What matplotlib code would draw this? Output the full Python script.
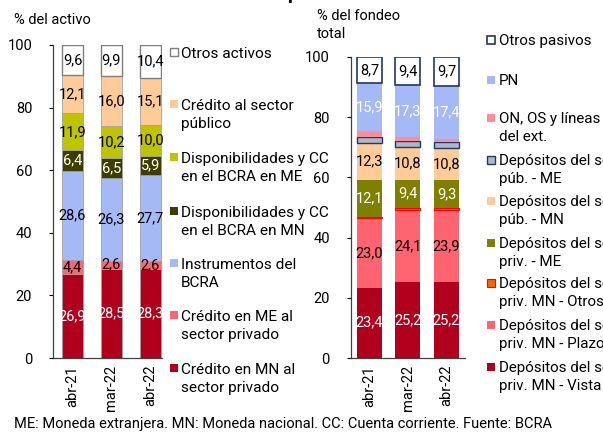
import matplotlib
matplotlib.use("Agg")
import matplotlib.pyplot as plt
from matplotlib.patches import Rectangle
import numpy as np

plt.rcParams['font.family'] = ['Roboto', 'DejaVu Sans']

# ---------------- data ----------------
periods = ["abr-21", "mar-22", "abr-22"]

# Activo (left)
asset_names = ["Crédito en MN al\nsector privado", "Crédito en ME al\nsector privado",
               "Instrumentos del\nBCRA", "Disponibilidades y CC\nen el BCRA en MN",
               "Disponibilidades y CC\nen el BCRA en ME", "Crédito al sector\npúblico",
               "Otros activos"]
credito_mn = [26.9, 28.5, 28.3]
credito_me = [4.4, 2.6, 2.6]
instrumentos_bcra = [28.6, 26.3, 27.7]
disp_mn = [6.4, 6.5, 5.9]
disp_me = [11.9, 10.2, 10.0]
credito_pub = [12.1, 16.0, 15.1]
otros_activos = [9.6, 9.9, 10.4]

# Fondeo (right)
funding_names = ["Depósitos del sector\npriv. MN - Vista", "Depósitos del sector\npriv. MN - Plazo",
                 "Depósitos del sector\npriv. MN - Otros", "Depósitos del sector\npriv. - ME",
                 "Depósitos del sector\npúb. - MN", "Depósitos del sector\npúb. - ME",
                 "ON, OS y líneas\ndel ext.", "PN", "Otros pasivos"]
dep_priv_vista = [23.4, 25.2, 25.2]
dep_priv_plazo = [23.0, 24.1, 23.9]
dep_priv_otros = [0.6, 0.6, 0.6]
dep_priv_me = [12.1, 9.4, 9.3]
dep_pub_mn = [12.3, 10.8, 10.8]
dep_pub_me = [2.0, 1.9, 1.9]
on_os = [2.0, 1.3, 1.2]
pn = [15.9, 17.3, 17.4]
otros_pasivos = [8.7, 9.4, 9.7]

y_ticks = [0, 20, 40, 60, 80, 100]

# ---------------- styles ----------------
W, H = 603, 432
fig = plt.figure(figsize=(W / 100, H / 100), dpi=100)

def fx(px):
    return px / W

def fy(py):
    return 1 - py / H

asset_styles = [  # face, edge, lw, label color, show label
    ("#B0001E", "#A0A0A0", 0.6, "white", True),
    ("#FF6470", "#A0A0A0", 0.6, "black", True),
    ("#A4B9F5", "#A0A0A0", 0.6, "black", True),
    ("#3D3D00", "#A0A0A0", 0.6, "white", True),
    ("#BFC400", "#A0A0A0", 0.6, "black", True),
    ("#FFCC99", "#A0A0A0", 0.6, "black", True),
    ("#FFFFFF", "#7F7F7F", 1.0, "black", True),
]
NAVY = "#1F3864"
funding_styles = [
    ("#B0001E", "none", 0.0, "white", True),
    ("#FF6470", "none", 0.0, "black", True),
    ("#FF6600", "#FF0000", 0.8, "black", False),
    ("#7F7F00", "none", 0.0, "white", True),
    ("#FFCC99", "none", 0.0, "black", True),
    ("#ADB9CA", NAVY, 1.0, "black", False),
    ("#FF8C96", "none", 0.0, "black", False),
    ("#A4B9F5", "none", 0.0, "white", True),
    ("#FFFFFF", NAVY, 1.2, "black", True),
]

def fmt(v):
    return f"{v:.1f}".replace(".", ",")

def stacked(ax, series, styles, width):
    x = np.arange(len(periods))
    bottom = np.zeros(len(periods))
    for vals, (fc, ec, lw, tc, show) in zip(series, styles):
        vals = np.array(vals)
        ax.bar(x, vals, width, bottom=bottom, color=fc, edgecolor=ec, linewidth=lw, zorder=2)
        if show:
            for xi, b, v in zip(x, bottom, vals):
                ax.text(xi, b + v / 2, fmt(v), ha="center", va="center",
                        fontsize=10.5, color=tc, zorder=3)
        bottom = bottom + vals

def style_axes(ax):
    ax.set_ylim(0, 100)
    ax.set_yticks(y_ticks)
    ax.set_xticks(np.arange(len(periods)))
    ax.set_xticklabels(periods, rotation=90, fontsize=10.5)
    ax.tick_params(axis="y", labelsize=10.5, direction="out", length=3, width=0.8, pad=12)
    ax.tick_params(axis="x", length=0, pad=5)
    for s in ["top", "right"]:
        ax.spines[s].set_visible(False)
    for s in ["left", "bottom"]:
        ax.spines[s].set_color("#404040")
        ax.spines[s].set_linewidth(0.9)

# Left axes
axL = fig.add_axes([fx(53), fy(358), fx(162) - fx(53), fy(45) - fy(358)])
stacked(axL, [credito_mn, credito_me, instrumentos_bcra, disp_mn, disp_me, credito_pub, otros_activos],
        asset_styles, 0.54)
style_axes(axL)
axL.set_xlim(-0.5, 2.3)

# Right axes
axR = fig.add_axes([fx(350.5), fy(358), fx(465) - fx(350.5), fy(57) - fy(358)])
stacked(axR, [dep_priv_vista, dep_priv_plazo, dep_priv_otros, dep_priv_me, dep_pub_mn,
              dep_pub_me, on_os, pn, otros_pasivos], funding_styles, 0.65)
style_axes(axR)
axR.set_xlim(-0.49, 2.48)

# Axis titles
fig.text(fx(14), fy(20.5), "% del activo", fontsize=10.5, va="center", ha="left")
fig.text(fx(317), fy(16), "% del fondeo", fontsize=10.5, va="center", ha="left")
fig.text(fx(317), fy(34), "total", fontsize=10.5, va="center", ha="left")
fig.text(fx(293), fy(-1), "p", fontsize=14, fontweight="bold", va="baseline", ha="center")

# Legends (manual)
def legend_entry(xm, ym, name, fc, ec, lw, xt, fs):
    s = 8
    fig.patches.append(Rectangle((fx(xm - s / 2), fy(ym + s / 2)), s / W, s / H,
                                 transform=fig.transFigure, facecolor=fc, edgecolor=ec,
                                 linewidth=lw if lw > 0 else 0, figure=fig))
    em = fs * 100 / 72
    for i, line in enumerate(name.split("\n")):
        fig.text(fx(xt), fy(ym + 18 * i + 0.36 * em), line, fontsize=fs,
                 va="baseline", ha="left")

left_legend_y = [368, 315, 263, 211, 157, 104, 52]
for name, (fc, ec, lw, _, _), y in zip(asset_names, asset_styles, left_legend_y):
    legend_entry(174, y, name, fc, ec if ec != "#A0A0A0" else "none", lw, 181, 11.1)

right_legend_y = [367, 325, 283, 243, 201, 160, 118, 80, 40]
for name, (fc, ec, lw, _, _), y in zip(funding_names, funding_styles, right_legend_y):
    legend_entry(491, y, name, fc, ec, lw, 499, 10.9)

fig.text(fx(14), fy(424), "ME: Moneda extranjera. MN: Moneda nacional. CC: Cuenta corriente. Fuente: BCRA",
         fontsize=10.5, va="center", ha="left")

fig.savefig("out.png", dpi=100)
